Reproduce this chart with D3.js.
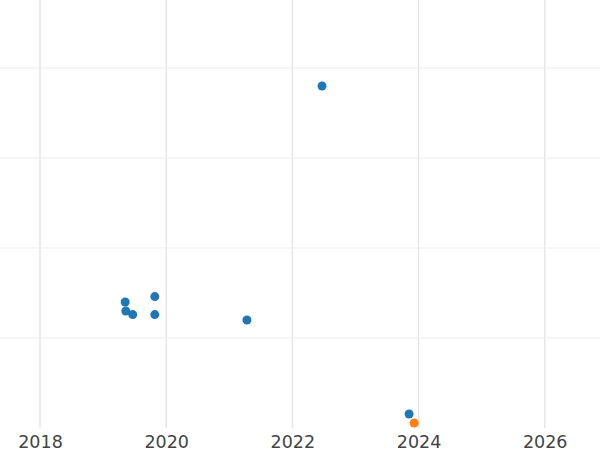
<!DOCTYPE html>
<html><head><meta charset="utf-8">
<script src="https://cdn.jsdelivr.net/npm/d3@7"></script>
<style>body{margin:0;background:#fff}</style></head>
<body><svg id="c" width="600" height="450"></svg>
<script>
const years = [2022.47, 2019.35, 2019.36, 2019.47, 2019.82, 2019.82, 2021.28, 2023.85, 2023.93];
const values = [3.8, 1.4, 1.3, 1.26, 1.46, 1.26, 1.2, 0.156, 0.056];
const groups = ["a","a","a","a","a","a","a","a","b"];
const xTicks = [2018, 2020, 2022, 2024, 2026];
const yTicks = [1, 2, 3, 4];
const colors = {a:"#1f77b4", b:"#ff7f0e"};

const svg = d3.select("#c");
const x = d3.scaleLinear().domain([2017.366, 2026.876]).range([0, 600]);
const y = d3.scaleLinear().domain([0, 4.744]).range([428, 1]);

svg.append("g").selectAll("line").data(xTicks).join("line")
  .attr("x1", d=>x(d)).attr("x2", d=>x(d)).attr("y1", 0).attr("y2", 428)
  .attr("stroke", "#e6e6e6").attr("stroke-width", 1.5);
svg.append("g").selectAll("line").data(yTicks).join("line")
  .attr("x1", 0).attr("x2", 600).attr("y1", d=>y(d)).attr("y2", d=>y(d))
  .attr("stroke", "#ececec").attr("stroke-width", 1);

const ax = svg.append("g").attr("transform", "translate(0,428)")
  .call(d3.axisBottom(x).tickValues(xTicks).tickFormat(d3.format("d")).tickSize(0).tickPadding(8));
ax.select(".domain").remove();
ax.selectAll("text").attr("font-family", "DejaVu Sans").attr("font-size", 17.5).attr("fill", "#444");

svg.append("g").selectAll("circle").data(years.map((d,i)=>i)).join("circle")
  .attr("cx", i=>x(years[i])).attr("cy", i=>y(values[i])).attr("r", 4.5)
  .attr("fill", i=>colors[groups[i]]);
</script></body></html>
